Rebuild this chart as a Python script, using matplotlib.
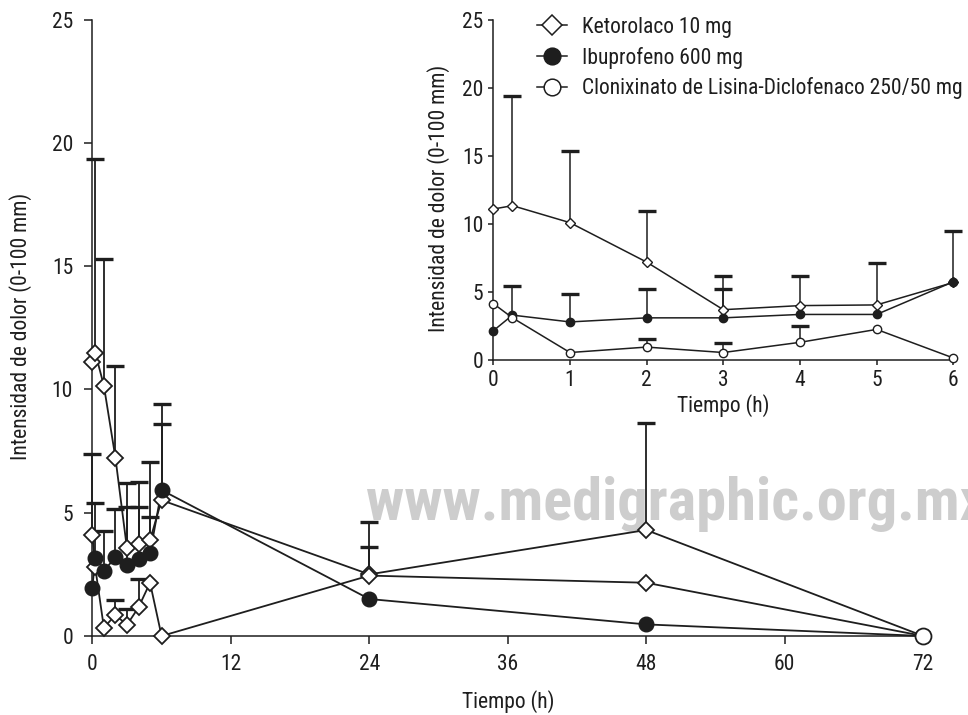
import numpy as np
import matplotlib
matplotlib.use("Agg")
import matplotlib.pyplot as plt
from matplotlib import font_manager as fm
from matplotlib.lines import Line2D

have = {f.name for f in fm.fontManager.ttflist}
CANDS = ["Roboto Condensed", "Archivo Narrow", "PT Sans Narrow", "Fira Sans Condensed",
         "IBM Plex Sans Condensed", "Sofia Sans Condensed", "Sofia Sans Semi Condensed",
         "Liberation Sans"]
FONT = next(c for c in CANDS if c in have)
plt.rcParams["font.family"] = [FONT, "DejaVu Sans"]
nan = np.nan

# ---- main panel, 0-72 h ----
T_MAIN = [0, 0.25, 1, 2, 3, 4, 5, 6, 24, 48, 72]
KET_MAIN = [11.1, 11.5, 10.15, 7.23, 3.55, 3.73, 3.89, 5.51, 2.5, 4.3, 0.0]
IBU_MAIN = [1.96, 3.15, 2.65, 3.19, 2.88, 3.11, 3.35, 5.92, 1.5, 0.47, 0.0]
CLX_MAIN = [4.09, 2.78, 0.34, 0.85, 0.45, 1.16, 2.16, 0.0, 2.45, 2.16, 0.0]
# tops of the error bars (mean + SD), nan = no bar drawn
KET_MAIN_TOP = [nan, 19.35, 15.28, 10.94, 6.19, 6.25, 7.07, 8.62, 4.61, 8.65, nan]
IBU_MAIN_TOP = [nan, 5.38, 4.27, 5.15, 5.24, 5.24, 4.84, 9.4, nan, nan, nan]
CLX_MAIN_TOP = [7.4, nan, nan, 1.46, 1.08, 2.3, nan, nan, 3.62, nan, nan]

# ---- inset, 0-6 h ----
T_IN = [0, 0.25, 1, 2, 3, 4, 5, 6]
KET_IN = [11.1, 11.35, 10.1, 7.2, 3.7, 4.0, 4.05, 5.7]
IBU_IN = [2.15, 3.3, 2.8, 3.1, 3.1, 3.35, 3.35, 5.75]
CLX_IN = [4.15, 3.1, 0.55, 0.95, 0.55, 1.3, 2.25, 0.15]
KET_IN_TOP = [nan, 19.4, 15.35, 10.95, 6.2, 6.2, 7.15, nan]
IBU_IN_TOP = [nan, 5.45, 4.85, 5.2, 5.25, nan, nan, 9.45]
CLX_IN_TOP = [nan, nan, nan, 1.54, 1.22, 2.5, nan, nan]

LABELS = ["Ketorolaco 10 mg", "Ibuprofeno 600 mg",
          "Clonixinato de Lisina-Diclofenaco 250/50 mg"]

K = "#1e1e1e"
FS = 15.5

def err_bars(ax, t, m, top, cap, lw):
    # upper SD only: stem from the mean up to a thick cap
    t = np.array(t, float); m = np.array(m, float); top = np.array(top, float)
    ok = np.isfinite(top)
    ax.vlines(t[ok], m[ok], top[ok], color=K, lw=lw, zorder=1.5, clip_on=False)
    ax.plot(t[ok], top[ok], ls="none", marker="_", ms=cap, mew=2.4, color=K,
            zorder=1.6, clip_on=False)

def style(ax, tl, pad_x, pad_y):
    for s in ("top", "right"):
        ax.spines[s].set_visible(False)
    for s in ("left", "bottom"):
        ax.spines[s].set_linewidth(1.1)
        ax.spines[s].set_color(K)
    ax.tick_params(axis="both", length=tl, width=1.1, color=K, labelsize=FS,
                   labelcolor=K)
    ax.tick_params(axis="x", pad=pad_x)
    ax.tick_params(axis="y", pad=pad_y)

fig = plt.figure(figsize=(9.68, 7.15), dpi=100)

# main axes
ax = fig.add_axes([0.0954, 0.1105, 0.8583, 0.8619])
ax.set_facecolor("none")
ax.set_xlim(0, 72); ax.set_ylim(0, 25)
ax.set_xticks(range(0, 73, 12)); ax.set_yticks(range(0, 26, 5))
style(ax, 5.8, 7.5, 8.0)
ax.set_xlabel("Tiempo (h)", fontsize=FS, color=K)
ax.set_ylabel("Intensidad de dolor (0-100 mm)", fontsize=FS, color=K)
ax.xaxis.set_label_coords(0.5, -0.087)
ax.yaxis.set_label_coords(-0.073, 0.503)

# watermark
ax.text(366 / 968, 1 - 520 / 715, "www.medigraphic.org.mx", transform=fig.transFigure,
        fontsize=43.5, fontweight="bold", color="#cdcdcd", ha="left", va="baseline",
        zorder=0.5, clip_on=False)

for m, top in ((KET_MAIN, KET_MAIN_TOP), (IBU_MAIN, IBU_MAIN_TOP), (CLX_MAIN, CLX_MAIN_TOP)):
    err_bars(ax, T_MAIN, m, top, 13.6, 1.3)
for m in (KET_MAIN, IBU_MAIN, CLX_MAIN):
    ax.plot(T_MAIN, m, "-", color=K, lw=1.3, zorder=2, clip_on=False)
first = slice(0, len(T_MAIN) - 1)
ax.plot(T_MAIN[first], KET_MAIN[first], ls="none", marker="D", ms=8.3, mfc="white",
        mec=K, mew=1.3, zorder=4, clip_on=False)
ax.plot(T_MAIN[first], CLX_MAIN[first], ls="none", marker="D", ms=8.3, mfc="white",
        mec=K, mew=1.3, zorder=4, clip_on=False)
ax.plot(T_MAIN[first], IBU_MAIN[first], ls="none", marker="o", ms=10.5, mfc=K,
        mec=K, mew=1.0, zorder=5, clip_on=False)
ax.plot(T_MAIN[-1:], CLX_MAIN[-1:], ls="none", marker="o", ms=11.5, mfc="white",
        mec=K, mew=1.3, zorder=5, clip_on=False)

# inset
ai = fig.add_axes([0.5096, 0.4965, 0.4752, 0.4755])
ai.set_facecolor("none")
ai.set_xlim(0, 6); ai.set_ylim(0, 25)
ai.set_xticks(range(0, 7)); ai.set_yticks(range(0, 26, 5))
style(ai, 3.6, 3.5, 3.6)
ai.set_xlabel("Tiempo (h)", fontsize=FS, color=K)
ai.set_ylabel("Intensidad de dolor (0-100 mm)", fontsize=FS, color=K)
ai.xaxis.set_label_coords(0.5, -0.10)
ai.yaxis.set_label_coords(-0.094, 0.474)

for m, top in ((KET_IN, KET_IN_TOP), (IBU_IN, IBU_IN_TOP), (CLX_IN, CLX_IN_TOP)):
    err_bars(ai, T_IN, m, top, 12.5, 1.1)
for m, mk, fc, ms in ((KET_IN, "D", "white", 5.2), (IBU_IN, "o", K, 6.0),
                      (CLX_IN, "o", "white", 6.0)):
    ai.plot(T_IN, m, "-", color=K, lw=1.1, marker=mk, ms=ms, mfc=fc, mec=K,
            mew=1.0, zorder=4, clip_on=False)

handles = [
    Line2D([], [], color=K, lw=1.1, marker="D", ms=10, mfc="white", mec=K, mew=1.1),
    Line2D([], [], color=K, lw=1.1, marker="o", ms=12, mfc=K, mec=K, mew=1.1),
    Line2D([], [], color=K, lw=1.1, marker="o", ms=12, mfc="white", mec=K, mew=1.1),
]
leg = ai.legend(handles, LABELS, loc="upper left", bbox_to_anchor=(536.7 / 968, 1 - 17 / 715),
                bbox_transform=fig.transFigure, frameon=False, fontsize=FS,
                handlelength=1.4, handletextpad=0.7, labelspacing=0.4,
                borderpad=0, borderaxespad=0, numpoints=1)
for txt in leg.get_texts():
    txt.set_color(K)

fig.savefig("out.png", dpi=100)
